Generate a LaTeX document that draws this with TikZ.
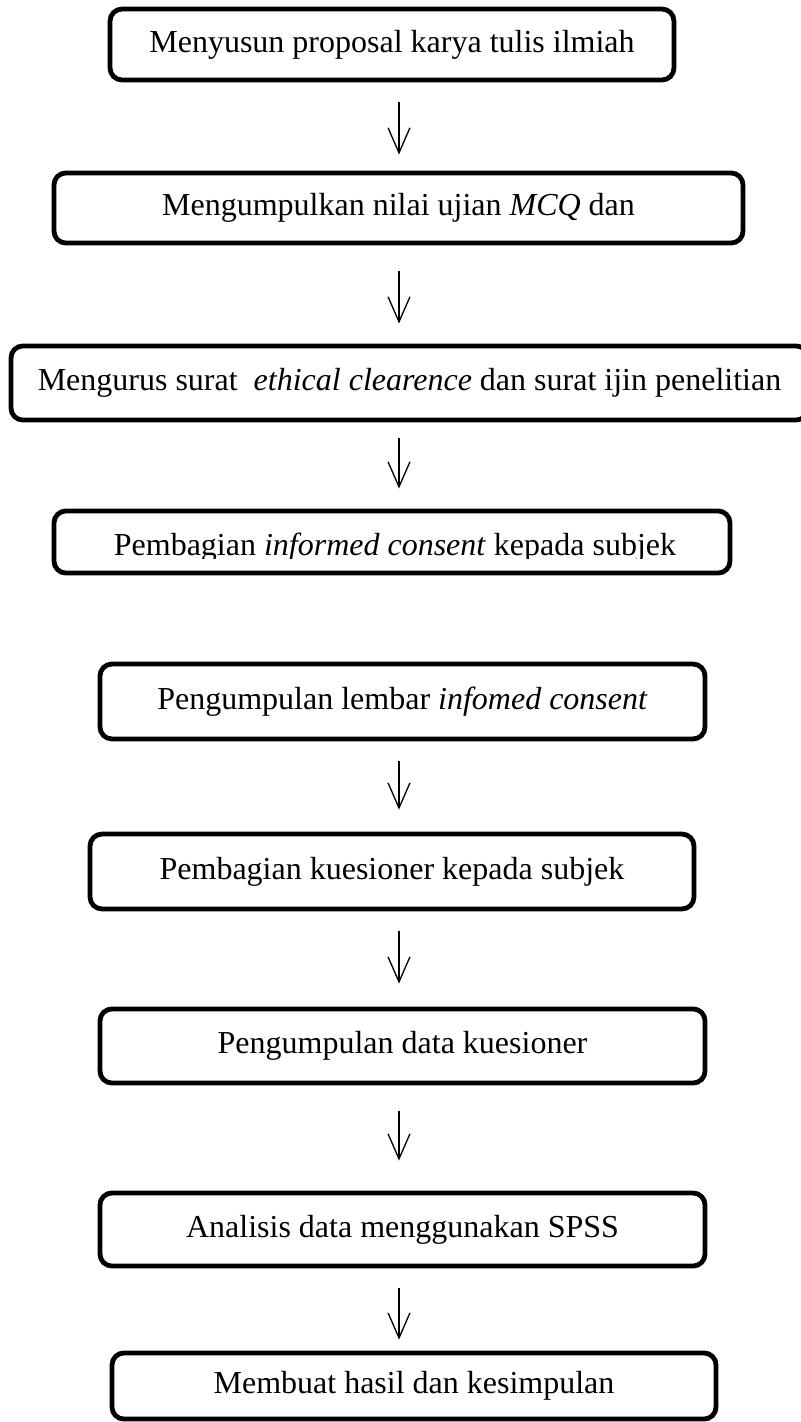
\documentclass[tikz,border=0pt]{standalone}
\usepackage{fontspec}
\setmainfont{Liberation Serif}
\usetikzlibrary{arrows.meta}
\tikzset{
  stepbox/.style = {draw=black, line width=1.8pt, rounded corners=4.5pt,
                    inner sep=0pt, font=\fontsize{12}{14}\selectfont},
  steptext/.style = {inner sep=0pt, font=\fontsize{12}{14}\selectfont},
  flow/.style = {line width=0.5pt, -{Straight Barb[length=9.4pt,width=8.2pt]}},
}

\begin{document}
\begin{tikzpicture}[x=0.375pt, y=-0.375pt]
\useasboundingbox (0,0) rectangle (801,1422);
% Steps, top to bottom
\node[stepbox, minimum width=211.5pt, minimum height=26.6pt] (b1) at (392, 44.5) {Menyusun proposal karya tulis ilmiah};
\node[stepbox, minimum width=258.4pt, minimum height=26.3pt] (b2) at (398.5, 208) {Mengumpulkan nilai ujian \textit{MCQ} dan};
\node[stepbox, minimum width=298.9pt, minimum height=27.8pt] (b3) at (409.5, 383) {Mengurus surat~ \textit{ethical clearence} dan surat ijin penelitian};
\node[stepbox, minimum width=253.5pt, minimum height=23.3pt] (b4) at (392, 542) {};
% text of b4 sits low, its descenders cut off
\begin{scope}
  \clip (b4.north west) rectangle (b4.east |- 0,558);
  \node[steptext, anchor=base] (t4) at (395, 555) {Pembagian \textit{informed consent} kepada subjek};
\end{scope}
\node[stepbox, minimum width=226.9pt, minimum height=28.1pt] (b5) at (402.5, 701.5) {Pengumpulan lembar \textit{infomed consent}};
\node[stepbox, minimum width=226.5pt, minimum height=28.1pt] (b6) at (392, 871.5) {Pembagian kuesioner kepada subjek};
\node[stepbox, minimum width=226.9pt, minimum height=27.8pt] (b7) at (402.5, 1046) {Pengumpulan data kuesioner};
\node[stepbox, minimum width=226.9pt, minimum height=27.4pt] (b8) at (402.5, 1229.5) {Analisis data menggunakan SPSS};
\node[stepbox, minimum width=226.5pt, minimum height=24.8pt] (b9) at (414, 1386) {Membuat hasil dan kesimpulan};
% Arrows (none between b4 and b5)
\coordinate (ax) at (399, 0);
\foreach \from/\to/\s/\e in {b1/b2/7.5/6, b2/b3/9.75/7.5, b3/b4/6/7.5,
                             b5/b6/7.5/8.25, b6/b7/7.5/8.6, b7/b8/9.4/11.25,
                             b8/b9/7.5/4.1}
  \draw[flow, shorten <=\s pt, shorten >=\e pt] (ax |- \from.south) -- (ax |- \to.north);
\end{tikzpicture}
\end{document}
